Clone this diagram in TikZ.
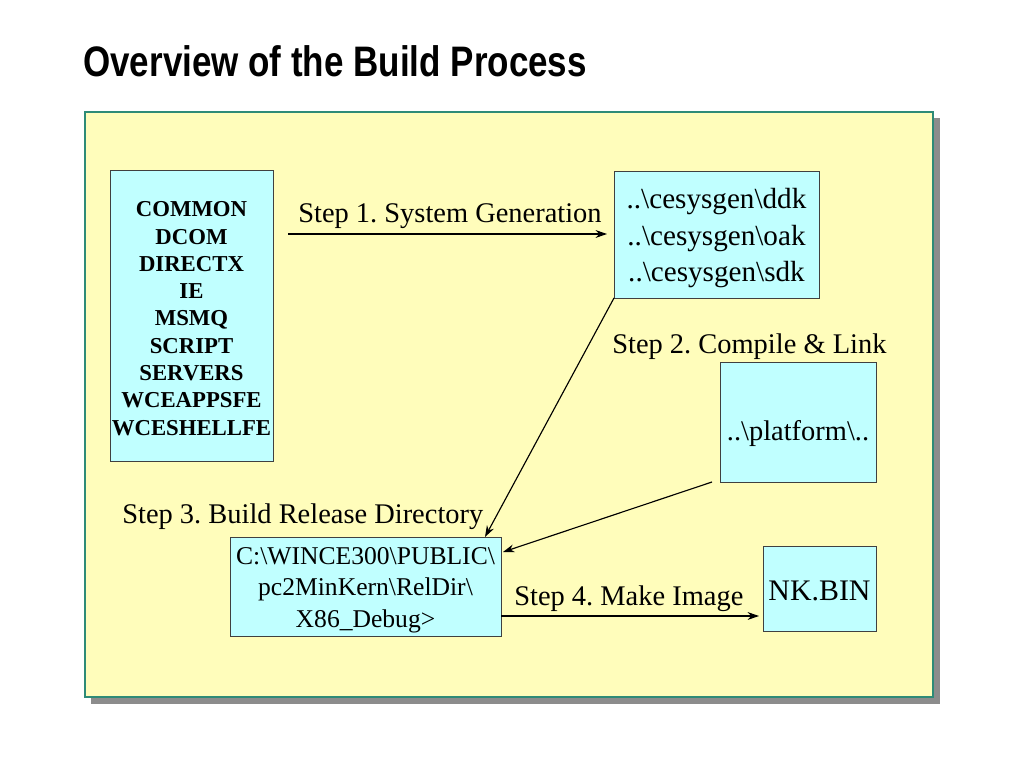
\documentclass[tikz,border=0pt]{standalone}
\usepackage{fontspec}
\setmainfont{Liberation Serif}
\newfontfamily\titlefont[FakeStretch=0.82]{Liberation Sans}
\usetikzlibrary{arrows.meta}
\frenchspacing
\definecolor{panelfill}{RGB}{255,253,187}
\definecolor{panelborder}{RGB}{46,139,119}
\definecolor{shadowgray}{RGB}{140,140,140}
\definecolor{boxfill}{RGB}{192,255,255}
\tikzset{
  px/.style={x=0.703125pt,y=-0.703125pt},
  cbox/.style={draw=black!75,fill=boxfill,line width=0.6pt},
  lbl/.style={anchor=base west,inner sep=0pt,font=\fontsize{20}{24}\selectfont},
  boxtxt/.style={anchor=base,inner sep=0pt},
  conn/.style={draw=black,line width=0.8pt,-{Stealth[length=8pt,width=5.5pt]}}
}
\begin{document}
\begin{tikzpicture}[px]
\useasboundingbox (0,0) rectangle (1024,768);
% title
\node[anchor=base west,inner sep=0pt,font=\titlefont\bfseries\fontsize{30}{36}\selectfont] (title) at (83,77) {Overview of the Build Process};
% panel with shadow
\fill[shadowgray] (91,118) rectangle (940,704);
\draw[panelborder,fill=panelfill,line width=1.2pt] (85,112) rectangle (933,697);
% left box
\draw[cbox] (110,170) rectangle (273,461);
\foreach \t [count=\i from 0] in {COMMON,DCOM,DIRECTX,IE,MSMQ,SCRIPT,SERVERS,WCEAPPSFE,WCESHELLFE}{
  \node[boxtxt,font=\bfseries\fontsize{16}{19}\selectfont] (l\i) at (191.5,{217+27.25*\i}) {\t};
}
% cesysgen box
\draw[cbox] (614,171) rectangle (819,298);
\coordinate (cesBL) at (614,298);
\node[boxtxt,font=\fontsize{20.5}{24}\selectfont] (c1) at (716.5,209) {..\textbackslash cesysgen\textbackslash ddk};
\node[boxtxt,font=\fontsize{20.5}{24}\selectfont] (c2) at (716.5,246) {..\textbackslash cesysgen\textbackslash oak};
\node[boxtxt,font=\fontsize{20.5}{24}\selectfont] (c3) at (716.5,282) {..\textbackslash cesysgen\textbackslash sdk};
% platform box
\draw[cbox] (720,362) rectangle (876,482);
\coordinate (platBL) at (712,482);
\node[boxtxt,font=\fontsize{20}{24}\selectfont] (plat) at (798,440) {..\textbackslash platform\textbackslash ..};
% release dir box
\draw[cbox] (230,537) rectangle (501,636);
\node[boxtxt,font=\fontsize{18}{22}\selectfont] (r1) at (365.5,564) {C:\textbackslash WINCE300\textbackslash PUBLIC\textbackslash};
\node[boxtxt,font=\fontsize{18}{22}\selectfont] (r2) at (365.5,595) {pc2MinKern\textbackslash RelDir\textbackslash};
\node[boxtxt,font=\fontsize{18}{22}\selectfont] (r3) at (365.5,627) {X86\_Debug>};
% NK.BIN box
\draw[cbox] (763,546) rectangle (876,631);
\node[boxtxt,font=\fontsize{21}{25}\selectfont] (nk) at (819.5,600) {NK.BIN};
% labels
\node[lbl] (s1) at (298,223) {Step 1. System Generation};
\node[lbl] (s2) at (612,353) {Step 2. Compile \& Link};
\node[lbl] (s3) at (122,523) {Step 3. Build Release Directory};
\node[lbl] (s4) at (514,605) {Step 4. Make Image};
% connectors
\coordinate (a1s) at (288,234);
\coordinate (a1e) at (607,234);
\draw[conn] (a1s) -- (a1e);
\coordinate (a2e) at (485,537);
\draw[conn] (cesBL) -- (a2e);
\coordinate (a3e) at (503,552);
\draw[conn] (platBL) -- (a3e);
\coordinate (a4s) at (501,616);
\coordinate (a4e) at (759,616);
\draw[conn] (a4s) -- (a4e);
\end{tikzpicture}
\end{document}
